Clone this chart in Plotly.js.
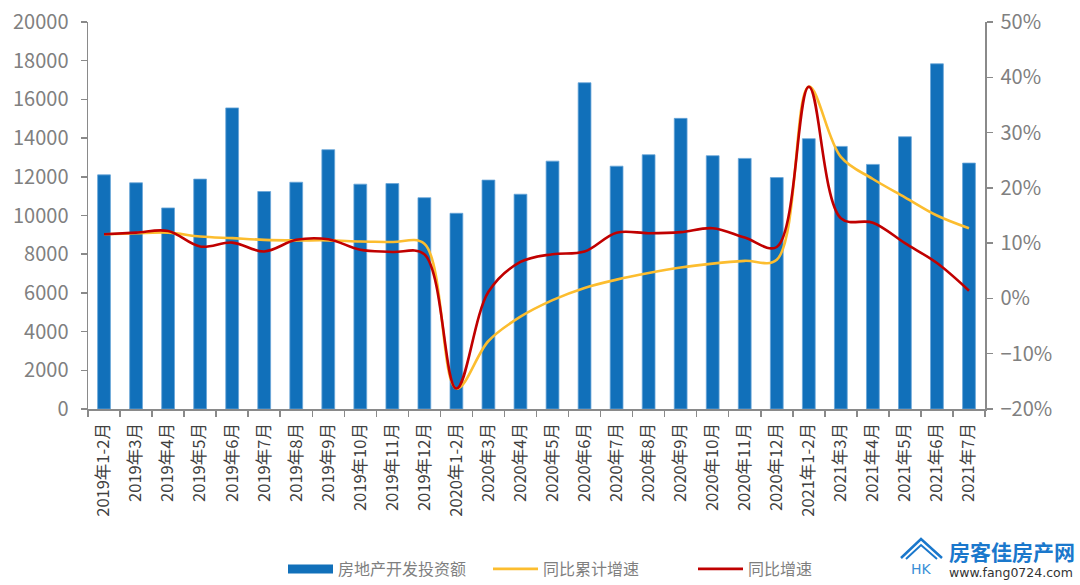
<!DOCTYPE html>
<html>
<head>
<meta charset="utf-8">
<script src="https://cdn.plot.ly/plotly-3.0.1.min.js"></script>
<style>
  html, body { margin: 0; padding: 0; background: #fff; }
  #chart { width: 1080px; height: 585px; }
</style>
</head>
<body>
<div id="chart"></div>
<script>
// 月份
const months = [
  '2019年1-2月', '2019年3月', '2019年4月', '2019年5月', '2019年6月', '2019年7月',
  '2019年8月', '2019年9月', '2019年10月', '2019年11月', '2019年12月',
  '2020年1-2月', '2020年3月', '2020年4月', '2020年5月', '2020年6月', '2020年7月',
  '2020年8月', '2020年9月', '2020年10月', '2020年11月', '2020年12月',
  '2021年1-2月', '2021年3月', '2021年4月', '2021年5月', '2021年6月', '2021年7月'
];

// 房地产开发投资额（亿元）
const investment = [
  12100, 11690, 10390, 11880, 15560, 11240, 11720, 13400, 11620, 11650, 10920,
  10115, 11830, 11100, 12810, 16860, 12550, 13140, 15020, 13090, 12950, 11960,
  13970, 13570, 12640, 14070, 17840, 12710
];

// 同比累计增速 (%)
const cumGrowth = [
  11.6, 11.8, 11.9, 11.2, 10.9, 10.6, 10.5, 10.5, 10.3, 10.2, 9.9,
  -16.3, -7.7, -3.3, -0.3, 1.9, 3.4, 4.6, 5.6, 6.3, 6.8, 7.0,
  38.3, 25.6, 21.6, 18.3, 15.0, 12.7
];

// 同比增速 (%)
const yoyGrowth = [
  11.6, 11.9, 12.2, 9.4, 10.1, 8.5, 10.6, 10.7, 8.8, 8.4, 8.0,
  -16.3, 1.2, 6.6, 8.0, 8.5, 11.9, 11.8, 12.0, 12.7, 11.0, 9.3,
  38.3, 14.5, 13.7, 10.0, 6.4, 1.4
];

const FONT = '"Noto Sans CJK SC", "Noto Sans", sans-serif';
const BLUE = '#1170ba';
const GOLD = '#fcbd2f';
const RED = '#c00000';
const AXIS = '#8a8a8a';

// plot area in px -> paper coords (for legend / logo placement)
const L = 88, R = 985, T = 22, B = 409;
const px = x => (x - L) / (R - L);
const py = y => (B - y) / (B - T);

const bars = {
  x: months, y: investment, type: 'bar', name: '房地产开发投资额',
  marker: { color: BLUE, line: { color: '#6aa6d8', width: 0.8 } },
  showlegend: false
};

// legend stand-in so the bar entry looks like a wide block
const barKey = {
  x: [null], y: [null], type: 'scatter', mode: 'lines', name: '房地产开发投资额',
  line: { color: BLUE, width: 9 }
};

const cum = {
  x: months, y: cumGrowth, type: 'scatter', mode: 'lines', name: '同比累计增速',
  yaxis: 'y2', line: { color: GOLD, width: 2.6, shape: 'spline', smoothing: 1 }
};

const yoy = {
  x: months, y: yoyGrowth, type: 'scatter', mode: 'lines', name: '同比增速',
  yaxis: 'y2', line: { color: RED, width: 2.6, shape: 'spline', smoothing: 1 }
};

const layout = {
  width: 1080, height: 585,
  margin: { l: L, r: 1080 - R, t: T, b: 585 - B, autoexpand: false },
  paper_bgcolor: '#fff', plot_bgcolor: '#fff',
  font: { family: FONT, color: '#595959' },
  bargap: 0.6,
  showlegend: true,
  legend: {
    orientation: 'h', x: px(283), xanchor: 'left', y: py(569), yanchor: 'middle',
    font: { family: FONT, size: 16, color: '#7f7f7f' },
    itemwidth: 45, entrywidth: 145, entrywidthmode: 'pixels', traceorder: 'normal'
  },
  xaxis: {
    type: 'category', showline: true, linecolor: AXIS, linewidth: 1.5,
    ticks: 'outside', tickson: 'boundaries', ticklen: 6, tickcolor: AXIS, tickwidth: 1.5,
    tickangle: -90, tickfont: { family: FONT, size: 16.5, color: '#404040' },
    showgrid: false, automargin: false, ticklabelstandoff: 6
  },
  yaxis: {
    range: [0, 20000], dtick: 2000, tickformat: 'd', showline: true, linecolor: AXIS, linewidth: 1.5,
    ticks: 'outside', ticklen: 6, tickcolor: AXIS, tickwidth: 1.5,
    tickfont: { family: FONT, size: 20, color: '#808080' },
    showgrid: false, zeroline: false, automargin: false, ticklabelstandoff: 8
  },
  yaxis2: {
    overlaying: 'y', side: 'right', range: [-20, 50], dtick: 10, ticksuffix: '%',
    showline: true, linecolor: AXIS, linewidth: 1.5,
    ticks: 'outside', ticklen: 6, tickcolor: AXIS, tickwidth: 1.5,
    tickfont: { family: FONT, size: 20, color: '#808080' },
    showgrid: false, zeroline: false, automargin: false, ticklabelstandoff: 4
  },
  annotations: [
    {
      xref: 'paper', yref: 'paper', x: px(947), y: py(551), xanchor: 'left', yanchor: 'middle',
      text: '<b>房客佳房产网</b>', showarrow: false,
      font: { family: FONT, size: 21, color: '#1a78cc' }
    },
    {
      xref: 'paper', yref: 'paper', x: px(947), y: py(572), xanchor: 'left', yanchor: 'middle',
      text: 'www.fang0724.com', showarrow: false,
      font: { family: '"DejaVu Sans", sans-serif', size: 12.5, color: '#333' }
    },
    {
      xref: 'paper', yref: 'paper', x: px(921), y: py(569), xanchor: 'center', yanchor: 'middle',
      text: 'HK', showarrow: false,
      font: { family: '"DejaVu Sans", sans-serif', size: 14, color: '#3a8fd6' }
    }
  ],
  shapes: [
    {
      type: 'path', xref: 'paper', yref: 'paper',
      path: `M ${px(901)} ${py(558)} L ${px(921)} ${py(539)} L ${px(942)} ${py(558)}`,
      line: { color: '#1a78cc', width: 2.5 }
    },
    {
      type: 'path', xref: 'paper', yref: 'paper',
      path: `M ${px(906)} ${py(559)} L ${px(921)} ${py(545)} L ${px(937)} ${py(559)}`,
      line: { color: '#1a78cc', width: 2 }
    }
  ]
};

Plotly.newPlot('chart', [bars, barKey, cum, yoy], layout, { displayModeBar: false, staticPlot: true });
</script>
</body>
</html>
